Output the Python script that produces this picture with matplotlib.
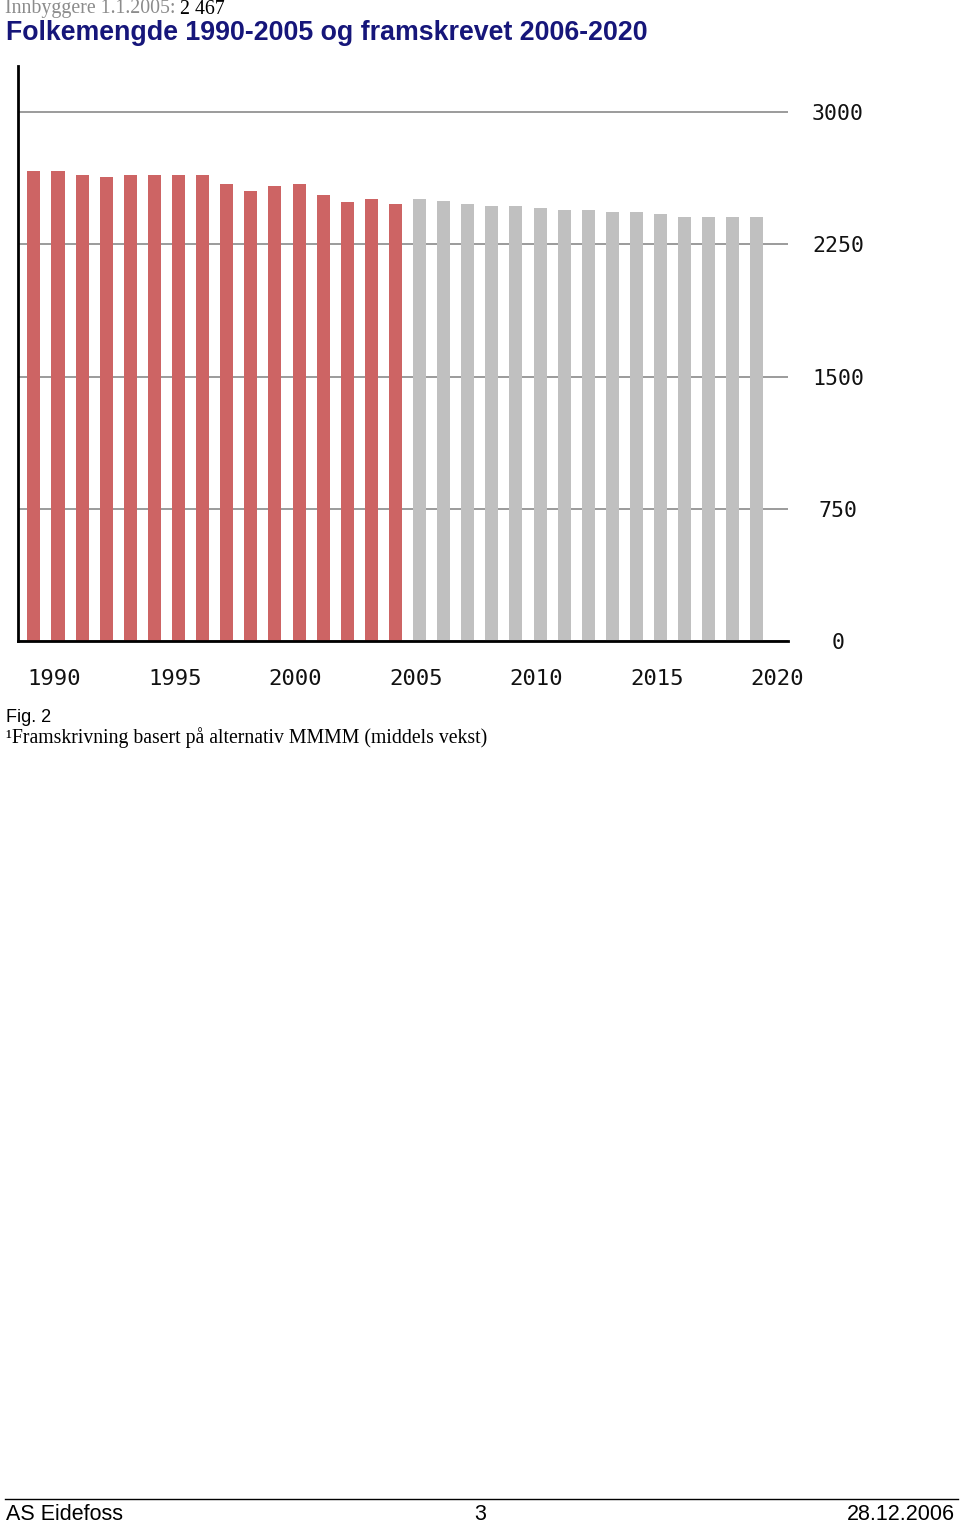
import matplotlib
matplotlib.use("Agg")
import matplotlib.pyplot as plt
import matplotlib.transforms as mtransforms

# Population data (1990-2005 registered, 2006-2020 projected)
years_hist = list(range(1990, 2006))
pop_hist = [2667, 2667, 2643, 2631, 2643, 2643, 2643, 2643,
            2592, 2554, 2579, 2592, 2529, 2491, 2505, 2480]

years_proj = list(range(2006, 2021))
pop_proj = [2505, 2494, 2480, 2469, 2469, 2456, 2444, 2444,
            2431, 2431, 2420, 2406, 2406, 2406, 2406]

x_label_years = [1990, 1995, 2000, 2005, 2010, 2015, 2020]
y_ticks = [0, 750, 1500, 2250, 3000]

header_grey = "Innbyggere 1.1.2005:"
header_value = "2 467"
title = "Folkemengde 1990-2005 og framskrevet 2006-2020"
fig_caption = "Fig. 2"
footnote = "\u00b9Framskrivning basert på alternativ MMMM (middels vekst)"
footer_left = "AS Eidefoss"
footer_mid = "3"
footer_right = "28.12.2006"

W, H = 960, 1525
fig = plt.figure(figsize=(W / 100, H / 100), dpi=100)
fig.patch.set_facecolor("white")


def fx(px):
    return px / W


def fy(py):
    return 1 - py / H


# plot area: x 18..788 px, y 66..641 px
ax = fig.add_axes([fx(18), fy(641), fx(788) - fx(18), fy(66) - fy(641)])

bar_w = 0.54
ax.bar(years_hist, pop_hist, width=bar_w, color="#cd6464", zorder=3)
ax.bar(years_proj, pop_proj, width=bar_w, color="#c0c0c0", zorder=3)

ax.set_xlim(1989.34, 2021.29)
ax.set_ylim(0, 3261)

for s in ["top", "right"]:
    ax.spines[s].set_visible(False)
ax.spines["left"].set_linewidth(2)
ax.spines["bottom"].set_linewidth(2)
ax.spines["left"].set_zorder(5)
ax.spines["bottom"].set_zorder(5)

ax.set_yticks(y_ticks)
ax.set_yticklabels([str(v) for v in y_ticks])
ax.yaxis.tick_right()
ax.tick_params(axis="y", length=0, pad=36, labelsize=15.5, labelcolor="#111111")
ax.yaxis.grid(True, color="#8a8a8a", lw=1.2, zorder=1)
ax.set_axisbelow(True)
for lbl in ax.get_yticklabels():
    lbl.set_horizontalalignment("center")
    lbl.set_family("DejaVu Sans Mono")

ax.set_xticks([y - bar_w / 2 for y in x_label_years])
ax.set_xticklabels([str(y) for y in x_label_years])
ax.tick_params(axis="x", length=0, pad=20, labelsize=16, labelcolor="#111111")
for lbl in ax.get_xticklabels():
    lbl.set_horizontalalignment("left")
    lbl.set_family("DejaVu Sans Mono")

# header texts
t = fig.text(fx(5), fy(9), header_grey, family="Liberation Serif", fontsize=14.3,
             color="#8c8c8c", va="center", ha="left")
fig.canvas.draw()
bb = t.get_window_extent()
off = mtransforms.offset_copy(t.get_transform(), fig=fig, x=bb.width + 4, units="dots")
fig.text(fx(5), fy(9), header_value, family="Liberation Serif", fontsize=14.3,
         color="black", va="center", ha="left", transform=off)

fig.text(fx(6), fy(33), title, family="Liberation Sans", fontweight="bold",
         fontsize=19.3, color="#16167a", va="center", ha="left")

fig.text(fx(6), fy(717), fig_caption, family="Liberation Sans", fontsize=13,
         color="black", va="center", ha="left")
fig.text(fx(6), fy(738), footnote, family="Liberation Serif", fontsize=14.2,
         color="black", va="center", ha="left")

# footer
fig.add_artist(plt.Line2D([fx(5), fx(958)], [fy(1499), fy(1499)], color="black", lw=1))
fig.text(fx(6), fy(1515), footer_left, family="Liberation Sans", fontsize=15.5,
         va="center", ha="left")
fig.text(fx(480), fy(1515), footer_mid, family="Liberation Sans", fontsize=15.5,
         va="center", ha="center")
fig.text(fx(955), fy(1515), footer_right, family="Liberation Sans", fontsize=15.5,
         va="center", ha="right")

fig.savefig("out.png", dpi=100, facecolor="white")
